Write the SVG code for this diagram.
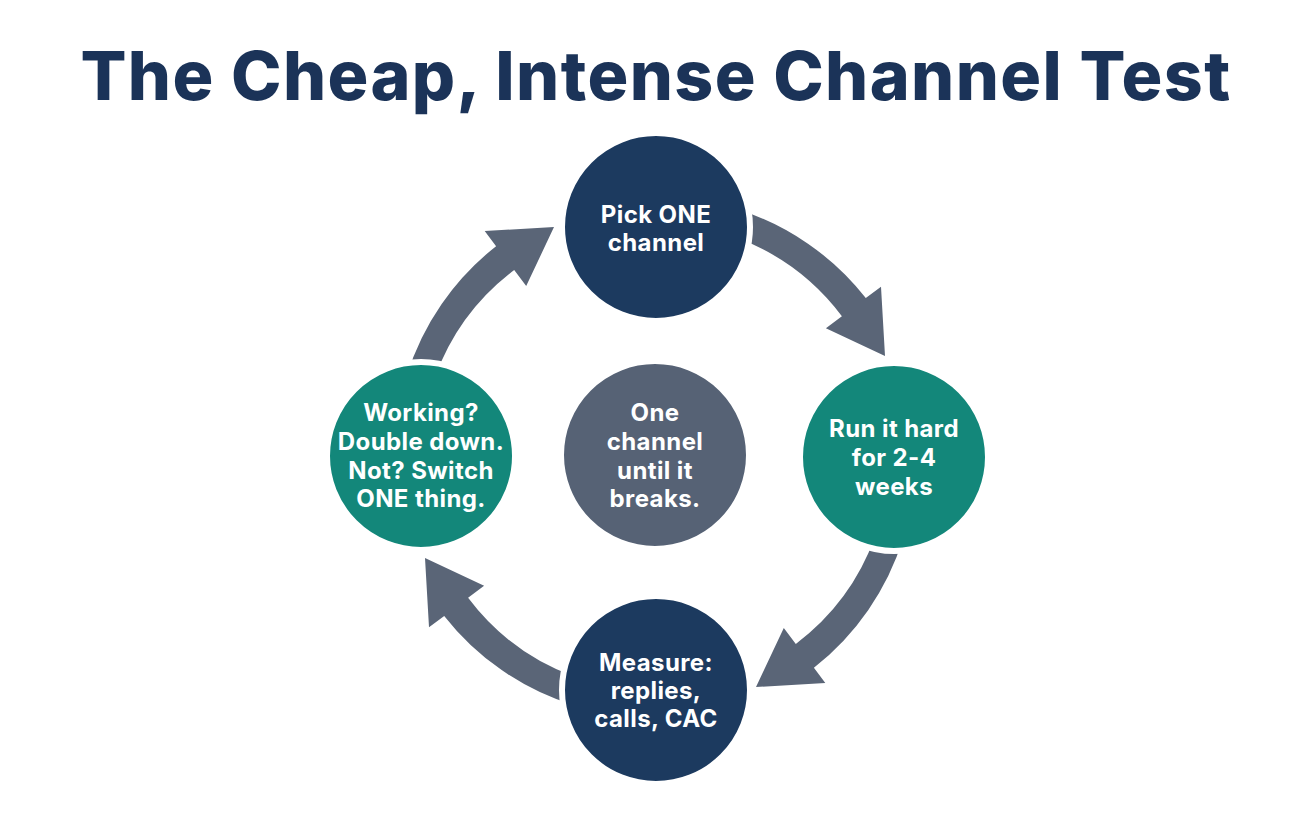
<svg xmlns="http://www.w3.org/2000/svg" width="1312" height="816" viewBox="0 0 1312 816">
  <defs>
    <style>
      .title { font-family: Inter, "Noto Sans", "Liberation Sans", sans-serif; font-weight: 800; font-size: 68px; letter-spacing: 1.4px; fill: #1b3358; }
      .lbl { font-family: Inter, "Noto Sans", "Liberation Sans", sans-serif; font-weight: 700; font-size: 24px; letter-spacing: 0.4px; fill: #ffffff; text-anchor: middle; }
      .arrow { fill: #5a6577; }
      .node { stroke: #ffffff; stroke-width: 6; }
      .navy { fill: #1c3a5f; }
      .teal { fill: #13877a; }
      .gray { fill: #566275; }
    </style>
    <path id="arc-arrow" d="M 736.6 208.9 A 264 264 0 0 1 865.8 298.1 L 881.0 286.7 L 885 356 L 825.9 328.2 L 841.9 316.2 A 234 234 0 0 0 735.0 237.1 Z"/>
  </defs>
  <rect width="1312" height="816" fill="#ffffff"/>
  <text class="title" x="656" y="100" text-anchor="middle">The Cheap, Intense Channel Test</text>

  <g id="connectors">
    <use href="#arc-arrow" class="arrow"/>
    <use href="#arc-arrow" class="arrow" transform="rotate(90 655 457)"/>
    <use href="#arc-arrow" class="arrow" transform="rotate(180 655 457)"/>
    <use href="#arc-arrow" class="arrow" transform="rotate(270 655 457)"/>
  </g>

  <g id="node-pick">
    <circle class="node navy" cx="656" cy="227" r="94"/>
    <text class="lbl" x="656" y="223">Pick ONE</text>
    <text class="lbl" x="656" y="251">channel</text>
  </g>
  <g id="node-run">
    <circle class="node teal" cx="894" cy="457" r="94"/>
    <text class="lbl" x="894" y="437">Run it hard</text>
    <text class="lbl" x="894" y="466">for 2-4</text>
    <text class="lbl" x="894" y="495">weeks</text>
  </g>
  <g id="node-measure">
    <circle class="node navy" cx="656" cy="690" r="94"/>
    <text class="lbl" x="656" y="671">Measure:</text>
    <text class="lbl" x="656" y="699">replies,</text>
    <text class="lbl" x="656" y="727">calls, CAC</text>
  </g>
  <g id="node-decide">
    <circle class="node teal" cx="421" cy="456" r="94"/>
    <text class="lbl" x="421" y="421">Working?</text>
    <text class="lbl" x="421" y="450">Double down.</text>
    <text class="lbl" x="421" y="479">Not? Switch</text>
    <text class="lbl" x="421" y="507">ONE thing.</text>
  </g>
  <g id="node-center">
    <circle class="node gray" cx="655" cy="455" r="94"/>
    <text class="lbl" x="655" y="421">One</text>
    <text class="lbl" x="655" y="450">channel</text>
    <text class="lbl" x="655" y="479">until it</text>
    <text class="lbl" x="655" y="507">breaks.</text>
  </g>
</svg>
